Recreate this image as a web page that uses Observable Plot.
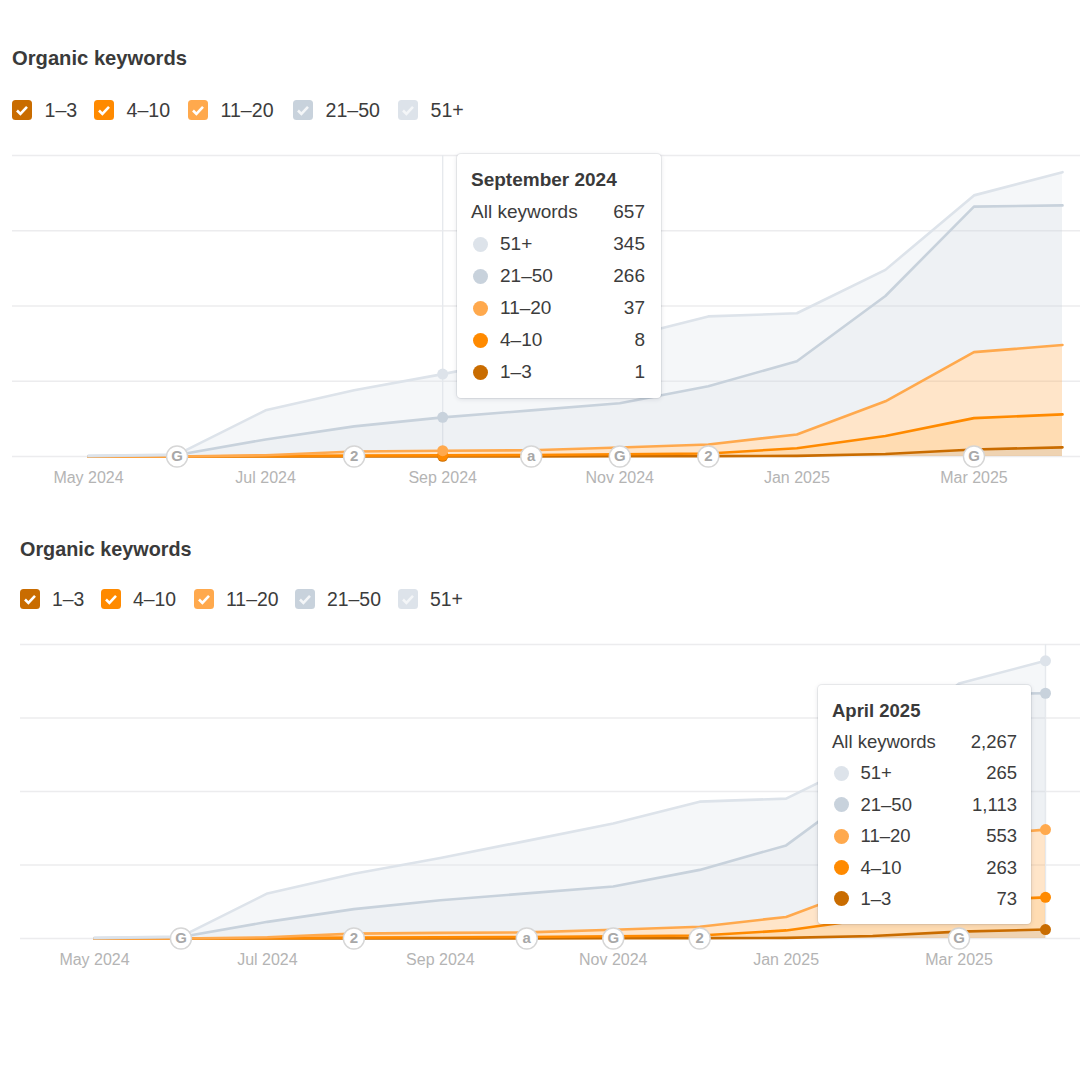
<!DOCTYPE html>
<html>
<head>
<meta charset="utf-8">
<script src="https://cdn.jsdelivr.net/npm/d3@7"></script>
<script src="https://cdn.jsdelivr.net/npm/@observablehq/plot@0.6"></script>
<style>
html,body{margin:0;padding:0;background:#fff;overflow:hidden}
body{width:1080px;height:1080px;position:relative;font-family:"Liberation Sans",Arial,sans-serif;color:#3c3c3c}
.abs{position:absolute}
.title{font-weight:700;color:#3a3a3a;white-space:nowrap}
.leg{display:flex;align-items:center;white-space:nowrap}
.box{width:20px;height:20px;border-radius:3.5px;display:inline-block;flex:none}
.box svg{display:block}
.tip{background:#fff;border-radius:4px;box-shadow:0 0 0 1px rgba(30,40,60,.07),0 1px 5px rgba(30,40,60,.13);box-sizing:border-box;white-space:nowrap}
.tip .row{position:absolute;left:0;right:0;display:flex;align-items:center;transform:translateY(-50%)}
.tip .dot{width:15px;height:15px;border-radius:50%;flex:none}
.tip .val{margin-left:auto}
svg.plot text{font-family:"Liberation Sans",Arial,sans-serif}
</style>
</head>
<body>
<script>
// ---- data ----
const months = ["2024-05","2024-06","2024-07","2024-08","2024-09","2024-10","2024-11","2024-12","2025-01","2025-02","2025-03","2025-04"];
const seriesNames = ["1–3","4–10","11–20","21–50","51+"];
const seriesColors = ["#c96c00","#ff8a00","#ffa94d","#c8d2dc","#dde3ea"];
const kw1to3   = [0,0,0,1,1,1,2,3,5,20,56,73];
const kw4to10  = [0,0,3,6,8,11,16,21,61,143,250,263];
const kw11to20 = [0,0,7,33,37,38,54,72,110,277,526,553];
const kw21to50 = [3,12,126,200,266,318,352,464,584,840,1160,1113];
const kw51plus = [3,3,232,288,345,429,514,557,382,208,90,265];
const seriesValues = [kw1to3,kw4to10,kw11to20,kw21to50,kw51plus];
const tickMonths = ["2024-05","2024-07","2024-09","2024-11","2025-01","2025-03"];
const tickLabels = ["May 2024","Jul 2024","Sep 2024","Nov 2024","Jan 2025","Mar 2025"];
const yGrid = [0,600,1200,1800,2400];
const eventMonths = ["2024-06","2024-08","2024-10","2024-11","2024-12","2025-03"];
const eventLabels = ["G","2","a","G","2","G"];
const tipTitles = {"2024-09":"September 2024","2025-04":"April 2025"};

const rows = seriesNames.flatMap((s,i)=>months.map((m,j)=>({month:m,series:s,value:seriesValues[i][j]})));
const events = eventMonths.map((m,i)=>({month:m,label:eventLabels[i]}));
const colorScale = {domain:seriesNames,range:seriesColors};

function chart(c){
  const title=document.createElement("div");
  title.className="abs title";title.textContent="Organic keywords";
  title.style.cssText=`left:${c.left}px;top:${c.titleY}px;font-size:${c.titleSize}px;line-height:20px;transform:translateY(-50%)`;
  document.body.append(title);

  seriesNames.forEach((s,i)=>{
    const l=document.createElement("div");
    l.className="abs leg";
    l.style.cssText=`left:${c.legX[i]}px;top:${c.legY-10}px;height:20px;font-size:${c.legSize}px`;
    const faded=i>=3;
    l.innerHTML=`<span class="box" style="background:${seriesColors[i]}"><svg width="20" height="20" viewBox="0 0 20 20"><path d="M5 10.5l3.4 3.4L15 6.8" fill="none" stroke="${faded?"#f4f6f8":"#fff"}" stroke-width="2.6"/></svg></span><span style="margin-left:${c.legGap}px">${s}</span>`;
    document.body.append(l);
  });

  const plot=Plot.plot({
    width:1080,
    height:c.h,
    marginLeft:c.left,marginRight:0,marginTop:c.gridTop-c.top,marginBottom:c.top+c.h-c.base,
    style:{background:"transparent",overflow:"visible"},
    x:{type:"point",domain:months,range:c.xRange,padding:0,align:0,round:false},
    y:{domain:[0,2400],range:[c.base-c.top,c.gridTop-c.top],axis:null},
    color:colorScale,
    marks:[
      Plot.gridY(yGrid,{stroke:"#ececee",strokeOpacity:1,strokeWidth:1.6}),
      Plot.ruleX([c.hover],{x:d=>d,y1:0,y2:2400,stroke:"#e6e9ed",strokeWidth:1.4}),
      Plot.areaY(rows,{x:"month",y:"value",z:"series",fill:"series",fillOpacity:.3,curve:"linear"}),
      Plot.lineY(rows,Plot.stackY2({x:"month",y:"value",z:"series",stroke:"series",strokeWidth:2.6,curve:"linear"})),
      Plot.dot(rows,Plot.stackY2({filter:d=>d.month===c.hover,x:"month",y:"value",z:"series",fill:"series",r:5.5})),
      Plot.dot(events,{x:"month",y:()=>0,r:10.5,fill:"#fff",stroke:"#d6d6d6",strokeWidth:1.4}),
      Plot.text(events,{x:"month",y:()=>0,text:"label",fontSize:15,fontWeight:700,fill:"#a8a8a8"}),
      Plot.axisX({ticks:tickMonths,tickFormat:d=>tickLabels[tickMonths.indexOf(d)],tickSize:0,tickPadding:c.tickPad,fontSize:c.tickSize,color:"#b4b4b4",label:null})
    ]
  });
  plot.classList.add("plot");
  plot.style.cssText+=`;position:absolute;left:0;top:${c.top}px;`;
  document.body.append(plot);

  const idx=months.indexOf(c.hover);
  const tip=document.createElement("div");
  tip.className="abs tip";
  tip.style.cssText=`left:${c.tip.x}px;top:${c.tip.y}px;width:${c.tip.w}px;height:${c.tip.h}px;font-size:${c.tip.font}px`;
  const fmt=d3.format(",");
  const total=d3.sum(seriesValues,v=>v[idx]);
  const pl=c.tip.pad, pr=c.tip.padR, st=c.tip.step, y0=c.tip.first;
  let html=`<div class="row" style="top:${y0}px;padding:0 ${pr}px 0 ${pl}px;font-weight:700;color:#3a3a3a">${tipTitles[c.hover]}</div>`;
  html+=`<div class="row" style="top:${y0+st}px;padding:0 ${pr}px 0 ${pl}px"><span>All keywords</span><span class="val">${fmt(total)}</span></div>`;
  [4,3,2,1,0].forEach((i,k)=>{
    html+=`<div class="row" style="top:${y0+st*(k+2)}px;padding:0 ${pr}px 0 ${pl+2}px"><span class="dot" style="background:${seriesColors[i]}"></span><span style="margin-left:${c.tip.gap}px">${seriesNames[i]}</span><span class="val">${fmt(seriesValues[i][idx])}</span></div>`;
  });
  tip.innerHTML=html;
  document.body.append(tip);
}

chart({left:12,titleY:58,titleSize:20.2,legX:[12,94,188,293,398],legY:110,legSize:19.6,legGap:12.5,
  top:140,h:350,gridTop:155,base:456,xRange:[88,1062],tickPad:15,tickSize:16,hover:"2024-09",
  tip:{x:457,y:154,w:204,h:244,font:19,pad:14,padR:16,gap:12,step:32,first:26}});
chart({left:20,titleY:549,titleSize:19.8,legX:[20,101,194,295,398],legY:599,legSize:19.4,legGap:12,
  top:630,h:340,gridTop:644,base:938,xRange:[94,1045],tickPad:15,tickSize:16,hover:"2025-04",
  tip:{x:818,y:685,w:213,h:239,font:18.5,pad:14,padR:14,gap:11.5,step:31.4,first:25.5}});
</script>
</body>
</html>
